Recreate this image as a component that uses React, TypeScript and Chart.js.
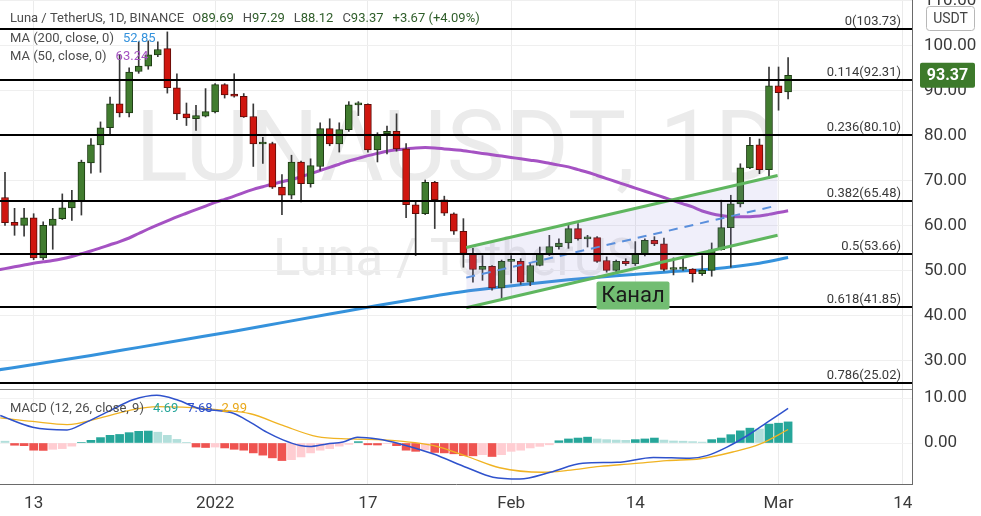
import React, { useEffect, useRef } from 'react';
import { Chart, registerables } from 'chart.js';

Chart.register(...registerables);

// ---------------- data ----------------
// daily candles, day 0 = Dec 10 2021 ... day 82 = Mar 2 2022
const opens = [
  66.2, 60.7, 60.0, 61.7, 52.8, 60.0, 61.5, 63.9, 65.3, 73.9,
  77.9, 81.7, 87.0, 85.0, 94.2, 95.4, 97.9, 99.3, 90.6, 84.8,
  83.7, 84.3, 85.2, 91.3, 89.2, 88.7, 84.2, 78.1, 78.2, 68.5,
  66.7, 74.1, 69.3, 73.1, 81.5, 78.1, 81.3, 86.8, 86.9, 76.8,
  80.4, 80.9, 77.0, 64.6, 62.6, 69.6, 65.7, 62.6, 58.7, 53.8,
  50.2, 50.9, 46.1, 52.0, 52.0, 47.4, 51.1, 53.6, 55.3, 56.1,
  59.3, 57.0, 57.3, 52.2, 50.0, 52.0, 51.5, 53.7, 56.7, 55.9,
  50.2, 50.3, 50.3, 49.3, 50.0, 54.6, 59.5, 64.8, 72.8, 77.9,
  72.4, 91.0, 89.69,
];
const highs = [
  71.8, 63.8, 63.8, 62.6, 60.8, 63.8, 67.0, 67.8, 74.5, 79.3,
  83.0, 88.5, 98.0, 95.0, 100.8, 101.0, 100.8, 103.0, 93.7, 87.2,
  86.7, 90.4, 91.5, 91.5, 93.7, 89.3, 87.0, 79.6, 78.5, 71.3,
  75.6, 74.3, 74.8, 82.8, 83.7, 82.8, 87.5, 87.5, 87.0, 80.6,
  82.1, 84.8, 78.2, 65.4, 70.1, 69.8, 66.5, 62.8, 61.5, 54.9,
  53.3, 51.1, 52.3, 53.3, 52.6, 51.7, 55.2, 57.8, 57.0, 60.4,
  60.4, 57.8, 57.5, 53.0, 52.3, 52.6, 56.4, 57.0, 57.5, 57.2,
  52.8, 52.9, 50.4, 53.3, 56.1, 65.6, 66.7, 73.7, 79.6, 79.2,
  95.2, 95.2, 97.29,
];
const lows = [
  60.0, 57.8, 57.6, 52.4, 52.4, 54.7, 61.3, 61.1, 62.3, 71.6,
  71.8, 80.0, 84.1, 84.1, 93.8, 94.7, 97.5, 89.4, 83.5, 82.2,
  81.1, 84.1, 85.0, 88.3, 88.5, 84.0, 73.1, 73.8, 68.2, 62.4,
  65.9, 65.2, 68.5, 72.2, 77.7, 76.3, 80.9, 84.4, 76.3, 74.1,
  75.9, 76.5, 61.7, 53.3, 62.4, 59.3, 62.2, 58.0, 50.7, 47.4,
  47.8, 45.6, 43.5, 47.2, 46.9, 46.6, 51.0, 53.3, 54.7, 54.9,
  56.7, 55.2, 51.8, 49.6, 49.3, 51.1, 51.1, 53.2, 55.5, 49.9,
  49.0, 50.0, 47.4, 48.9, 48.7, 54.5, 50.7, 64.1, 72.6, 71.5,
  70.4, 85.6, 88.12,
];
const closes = [
  60.6, 60.0, 61.7, 52.8, 60.0, 61.4, 63.9, 65.3, 74.1, 77.9,
  81.7, 87.0, 85.0, 94.1, 95.4, 97.9, 99.1, 90.6, 84.8, 83.9,
  84.4, 85.3, 91.3, 89.0, 88.7, 84.1, 78.1, 78.2, 68.5, 66.7,
  74.1, 69.3, 73.3, 81.5, 78.1, 81.3, 86.8, 86.9, 76.8, 80.2,
  80.9, 77.0, 64.6, 62.6, 69.6, 65.7, 62.7, 58.7, 53.8, 50.2,
  50.9, 46.1, 52.0, 52.1, 47.4, 51.1, 53.6, 55.3, 56.1, 59.3,
  57.0, 57.2, 52.0, 50.0, 52.0, 51.5, 53.7, 56.7, 55.9, 50.2,
  50.3, 50.4, 49.3, 50.0, 54.6, 59.5, 64.8, 72.8, 77.8, 72.4,
  91.0, 89.5, 93.37,
];

// MA 50: first value belongs to day -1, then days 0..82
const ma50 = [
  50.0,
  50.4, 50.8, 51.2, 51.6, 51.9, 52.2, 52.6, 53.1, 53.7, 54.3,
  55.0, 55.7, 56.4, 57.2, 58.2, 59.2, 60.1, 61.0, 61.9, 62.7,
  63.5, 64.3, 65.1, 65.8, 66.5, 67.3, 68.0, 68.6, 69.2, 69.7,
  70.2, 70.8, 71.5, 72.2, 72.9, 73.6, 74.3, 74.9, 75.5, 76.0,
  76.5, 76.8, 77.0, 77.2, 77.3, 77.2, 77.0, 76.8, 76.6, 76.3,
  76.0, 75.7, 75.4, 75.1, 74.8, 74.5, 74.2, 73.8, 73.4, 73.0,
  72.4, 71.8, 71.1, 70.4, 69.7, 69.0, 68.3, 67.6, 66.9, 66.2,
  65.5, 64.8, 64.1, 63.2, 62.6, 62.2, 61.95, 61.9, 61.95, 62.1,
  62.45, 62.85, 63.24,
];
const ma50FirstDay = -1;

const ma200Days = [-1, 4, 9, 14, 19, 24, 29, 34, 39, 44, 49, 54, 59, 64, 69, 74, 79, 82];
const ma200Vals = [27.8, 29.4, 31.1, 32.9, 34.7, 36.5, 38.4, 40.3, 42.2, 44.0, 45.6, 46.8, 47.9, 48.8, 49.6, 50.3, 51.6, 52.85];

const macdDays = [-0.5, 2.9, 6.5, 8.2, 11, 13.4, 15.9, 18, 20.4, 22.2, 23.9, 25.7, 27.4, 29.1, 30.9, 31.9, 33.7, 35.4, 36.9, 39, 41.4, 44.8, 48.4, 51.1, 53.9, 57.1, 60.5, 64.1, 67.9, 71.7, 73.5, 75.6, 78, 79.8, 82];
const macdVals = [6.1, 3.5, 2.9, 4.3, 7.2, 9.6, 10.6, 9.6, 7.6, 7.2, 6.6, 4.6, 2.4, 0.7, -0.55, -0.8, -0.2, 0.2, 1.3, 0.9, -0.2, -2.4, -5.5, -7.6, -8.0, -6.5, -4.5, -4.3, -3.2, -3.4, -2.8, -0.9, 2.0, 4.6, 7.68];
const signalDays = [-0.5, 2.9, 6.5, 10, 13.4, 15.9, 18.6, 22.2, 25.7, 29.1, 32.7, 36.1, 39.6, 41.4, 44.8, 48.4, 51.8, 56.3, 58.9, 62.3, 65.8, 69.3, 72.8, 76.2, 79.1, 82];
const signalVals = [5.6, 4.8, 4.1, 5.6, 7.4, 8.1, 7.95, 7.4, 6.5, 3.9, 1.4, 0.9, 0.7, 0.4, -0.55, -3.0, -5.5, -6.5, -6.1, -5.2, -4.6, -3.9, -3.5, -2.0, -0.2, 2.99];
const histBefore = 0.7;
const hist = [
  0.4, -0.5, -0.6, -1.6, -1.65, -1.4, -1.25, -0.7, 0.1, 0.6,
  1.2, 1.7, 1.9, 2.3, 2.6, 2.65, 2.4, 1.7, 0.8, 0.15,
  -0.9, -1.0, -0.9, -1.1, -1.4, -1.6, -2.2, -2.7, -3.3, -3.9,
  -3.7, -3.1, -2.2, -1.6, -1.25, -0.7, -0.3, 0.3, -0.4, -0.45,
  -0.1, -0.6, -1.6, -1.85, -1.5, -2.1, -2.2, -2.4, -2.8, -2.85,
  -2.6, -3.0, -2.6, -1.85, -1.6, -1.1, -0.75, -0.4, 0.5, 0.9,
  1.1, 1.3, 0.9, 0.75, 0.65, 0.6, 0.75, 0.9, 1.1, 0.65,
  0.45, 0.4, 0.3, 0.2, 0.75, 1.1, 1.85, 2.7, 3.3, 3.1,
  4.2, 4.4, 4.69,
];

const fibRatios = ['0', '0.114', '0.236', '0.382', '0.5', '0.618', '0.786'];
const fibPrices = [103.73, 92.31, 80.10, 65.48, 53.66, 41.85, 25.02];

const channelDays = [48.3, 80.9];
const channelUpper = [55.1, 71.1];
const channelLower = [41.7, 57.8];
const channelMid = [48.4, 64.45];
const channelLabel = 'Канал';
const channelLabelDay = 65.76;
const channelLabelPrice = 44.4;

const xTickDays = [3, 22, 38, 53, 66, 81, 94];
const xTickLabels = ['13', '2022', '17', 'Feb', '14', 'Mar', '14'];
const priceTicks = [30, 40, 50, 60, 70, 80, 90, 100, 110];
const macdTicks = [0, 10];

const headerTitle = 'Luna / TetherUS, 1D, BINANCE';
const headerOHLC = [['O', '89.69'], ['H', '97.29'], ['L', '88.12'], ['C', '93.37']];
const headerChange = '+3.67 (+4.09%)';
const ma200Legend = ['MA (200, close, 0)', '52.85'];
const ma50Legend = ['MA (50, close, 0)', '63.24'];
const macdLegend = 'MACD (12, 26, close, 9)';
const macdLegendVals = ['4.69', '7.68', '2.99'];
const watermarkMain = 'LUNAUSDT, 1D';
const watermarkSub = 'Luna / TetherUS';
const currencyLabel = 'USDT';

// ---------------- styling ----------------
const FONT = 'Roboto, "Noto Sans", sans-serif';
const GREEN = '#417c2f';
const GREEN_BORDER = '#1c3a12';
const RED = '#d0160f';
const RED_BORDER = '#5e0c08';
const PURPLE = '#a552c3';
const BLUE_MA = '#3592dc';
const CH_GREEN = '#5fb65f';
const TEAL = '#26a69a';
const TEAL_L = '#b2dfdb';
const RED_H = '#ef5350';
const PINK_H = '#ffcdd2';

function roundRect(ctx: any, x: number, y: number, w: number, h: number, r: number) {
  ctx.beginPath();
  ctx.moveTo(x + r, y);
  ctx.lineTo(x + w - r, y);
  ctx.quadraticCurveTo(x + w, y, x + w, y + r);
  ctx.lineTo(x + w, y + h - r);
  ctx.quadraticCurveTo(x + w, y + h, x + w - r, y + h);
  ctx.lineTo(x + r, y + h);
  ctx.quadraticCurveTo(x, y + h, x, y + h - r);
  ctx.lineTo(x, y + r);
  ctx.quadraticCurveTo(x, y, x + r, y);
  ctx.closePath();
}

function drawParts(ctx: any, x: number, y: number, parts: [string, string][]) {
  for (const [t, c] of parts) {
    ctx.fillStyle = c;
    ctx.fillText(t, x, y);
    x += ctx.measureText(t).width;
  }
  return x;
}

const overlayPlugin = {
  id: 'overlay',
  beforeDraw(chart: any) {
    const { ctx, chartArea: a, scales } = chart;
    ctx.save();
    ctx.fillStyle = '#ffffff';
    ctx.fillRect(0, 0, chart.width, chart.height);
    ctx.beginPath();
    ctx.rect(a.left, a.top, a.right - a.left, scales.y.bottom - a.top);
    ctx.clip();
    ctx.fillStyle = '#ebebeb';
    ctx.textAlign = 'center';
    ctx.textBaseline = 'alphabetic';
    ctx.font = `98px ${FONT}`;
    ctx.fillText(watermarkMain, 457, 180);
    ctx.font = `51px ${FONT}`;
    ctx.fillText(watermarkSub, 455, 275);
    ctx.restore();
  },
  afterDatasetsDraw(chart: any) {
    const { ctx, chartArea: a, scales } = chart;
    const ys = scales.y;
    const xs = scales.x;
    ctx.save();
    ctx.beginPath();
    ctx.rect(a.left, a.top, a.right - a.left, a.bottom - a.top);
    ctx.clip();
    // Fibonacci levels
    fibPrices.forEach((p, k) => {
      const y = Math.round(ys.getPixelForValue(p));
      ctx.strokeStyle = '#000000';
      ctx.lineWidth = 2;
      ctx.beginPath();
      ctx.moveTo(a.left, y);
      ctx.lineTo(a.right, y);
      ctx.stroke();
      ctx.font = `13px ${FONT}`;
      ctx.fillStyle = '#3a3a3a';
      ctx.textAlign = 'right';
      ctx.textBaseline = 'alphabetic';
      ctx.fillText(`${fibRatios[k]}(${p.toFixed(2)})`, a.right - 11, y - 4);
    });
    // channel label
    const cx = xs.getPixelForValue(channelLabelDay);
    const cy = ys.getPixelForValue(channelLabelPrice);
    ctx.fillStyle = '#72bd72';
    roundRect(ctx, cx - 36.5, cy - 14, 73, 28, 2);
    ctx.fill();
    ctx.fillStyle = '#1a1a1a';
    ctx.font = `22px ${FONT}`;
    ctx.textAlign = 'center';
    ctx.textBaseline = 'middle';
    ctx.fillText(channelLabel, cx, cy + 1);
    ctx.restore();
  },
  afterDraw(chart: any) {
    const { ctx, chartArea: a, scales } = chart;
    const ys = scales.y;
    ctx.save();
    // pane separator
    ctx.strokeStyle = '#8a8a8a';
    ctx.lineWidth = 1;
    ctx.beginPath();
    ctx.moveTo(0, Math.round(ys.bottom) + 0.5);
    ctx.lineTo(a.right, Math.round(ys.bottom) + 0.5);
    ctx.stroke();

    // header
    ctx.font = `13px ${FONT}`;
    ctx.textAlign = 'left';
    ctx.textBaseline = 'alphabetic';
    const gray = '#4d4d4d';
    const val = '#2f5e2a';
    let x = drawParts(ctx, 10, 21.5, [[headerTitle, gray]]) + 8;
    for (const [l, v] of headerOHLC) {
      x = drawParts(ctx, x, 21.5, [[l, gray], [v, val]]) + 9;
    }
    drawParts(ctx, x, 21.5, [[headerChange, val]]);

    x = drawParts(ctx, 10, 41.5, [[ma200Legend[0], gray]]) + 9;
    drawParts(ctx, x, 41.5, [[ma200Legend[1], BLUE_MA]]);
    x = drawParts(ctx, 10, 60, [[ma50Legend[0], gray]]) + 9;
    drawParts(ctx, x, 60, [[ma50Legend[1], PURPLE]]);

    x = drawParts(ctx, 10, 411.5, [[macdLegend, gray]]) + 9;
    const mc = [TEAL, '#2f52cc', '#e9a81a'];
    macdLegendVals.forEach((v, k) => {
      x = drawParts(ctx, x, 411.5, [[v, mc[k]]]) + 9;
    });

    // currency box
    ctx.fillStyle = '#ffffff';
    roundRect(ctx, 926.5, 6.5, 48, 24, 3);
    ctx.fill();
    ctx.strokeStyle = '#b8b8b8';
    ctx.stroke();
    ctx.fillStyle = '#444444';
    ctx.font = `14px ${FONT}`;
    ctx.textAlign = 'center';
    ctx.textBaseline = 'middle';
    ctx.fillText(currencyLabel, 950.5, 19);

    // last price label
    const last = closes[closes.length - 1];
    const py = ys.getPixelForValue(last);
    ctx.fillStyle = '#3d7a2b';
    roundRect(ctx, 920, py - 12.5, 55, 25, 2);
    ctx.fill();
    ctx.fillStyle = '#ffffff';
    ctx.font = `bold 16px ${FONT}`;
    ctx.fillText(last.toFixed(2), 947.5, py + 1);
    ctx.restore();
  },
};

export default function App() {
  const ref = useRef<HTMLCanvasElement>(null);

  useEffect(() => {
    const canvas = ref.current;
    if (!canvas) return;
    const days = opens.map((_, i) => i);
    const bodies = days.map((i) => ({ x: i, y: [opens[i], closes[i]] }));
    const wicks = days.map((i) => ({ x: i, y: [lows[i], highs[i]] }));
    const isUp = days.map((i) => closes[i] >= opens[i]);
    const histColors = hist.map((h, i) => {
      const p = i > 0 ? hist[i - 1] : histBefore;
      return h >= 0 ? (h >= p ? TEAL : TEAL_L) : h < p ? RED_H : PINK_H;
    });
    const pts = (xsArr: number[], vs: number[]) => xsArr.map((d, k) => ({ x: d, y: vs[k] }));

    const tickFont = { family: FONT, size: 17 };
    const priceTop = 110.09;
    const pricePx = 4.5;
    const mainH = 389;
    const macdH = 95;
    const macdZeroFromTop = 54;

    const chart = new Chart(canvas, {
      type: 'bar',
      data: {
        datasets: [
          {
            type: 'line', label: 'chUpper', data: pts(channelDays, channelUpper), yAxisID: 'y',
            borderColor: CH_GREEN, borderWidth: 3, pointRadius: 0, fill: '+1',
            backgroundColor: 'rgba(140,135,215,0.13)', order: 0.6,
          },
          {
            type: 'line', label: 'chLower', data: pts(channelDays, channelLower), yAxisID: 'y',
            borderColor: CH_GREEN, borderWidth: 3, pointRadius: 0, fill: false, order: 0.5,
          },
          {
            type: 'line', label: 'chMid', data: pts(channelDays, channelMid), yAxisID: 'y',
            borderColor: '#5a8fdc', borderWidth: 2, borderDash: [9, 7], pointRadius: 0, fill: false, order: 0.4,
          },
          {
            type: 'bar', label: 'bodies', data: bodies, yAxisID: 'y',
            backgroundColor: isUp.map((u) => (u ? GREEN : RED)),
            borderColor: isUp.map((u) => (u ? GREEN_BORDER : RED_BORDER)),
            borderWidth: 1, borderSkipped: false, barThickness: 7, grouped: false, minBarLength: 2, order: 2,
          },
          {
            type: 'bar', label: 'wicks', data: wicks, yAxisID: 'y',
            backgroundColor: '#383838', borderWidth: 0, barThickness: 1, grouped: false, order: 3,
          },
          {
            type: 'line', label: 'ma50', data: ma50.map((v, k) => ({ x: ma50FirstDay + k, y: v })), yAxisID: 'y',
            borderColor: PURPLE, borderWidth: 3, pointRadius: 0, tension: 0.3, fill: false, order: 4,
          },
          {
            type: 'line', label: 'ma200', data: pts(ma200Days, ma200Vals), yAxisID: 'y',
            borderColor: BLUE_MA, borderWidth: 3, pointRadius: 0, cubicInterpolationMode: 'monotone', fill: false, order: 4,
          },
          {
            type: 'bar', label: 'hist', data: hist.map((h, i) => ({ x: i, y: h })), yAxisID: 'yM',
            backgroundColor: histColors, borderWidth: 0, barThickness: 8, grouped: false, order: 5,
          },
          {
            type: 'line', label: 'macd', data: pts(macdDays, macdVals), yAxisID: 'yM',
            borderColor: '#2f52cc', borderWidth: 1.5, pointRadius: 0, cubicInterpolationMode: 'monotone', fill: false, order: 1,
          },
          {
            type: 'line', label: 'signal', data: pts(signalDays, signalVals), yAxisID: 'yM',
            borderColor: '#f0b323', borderWidth: 1.3, pointRadius: 0, cubicInterpolationMode: 'monotone', fill: false, order: 1,
          },
        ],
      } as any,
      options: {
        responsive: false,
        devicePixelRatio: 1,
        animation: false,
        events: [],
        layout: { padding: 0, autoPadding: false },
        plugins: { legend: { display: false }, tooltip: { enabled: false } },
        scales: {
          x: {
            type: 'linear', position: 'bottom', min: -0.5236, max: 94.974, offset: false,
            grid: { offset: false, color: '#ebebeb', drawTicks: false },
            border: { display: true, color: '#6a6a6a' },
            afterBuildTicks: (s: any) => { s.ticks = xTickDays.map((v) => ({ value: v })); },
            ticks: {
              autoSkip: false, maxRotation: 0, padding: 10, color: '#3a3a3a', font: tickFont,
              callback: (v: any) => { const k = xTickDays.indexOf(Number(v)); return k >= 0 ? xTickLabels[k] : ''; },
            },
            afterFit: (s: any) => { s.height = 32; s.paddingLeft = 0; s.paddingRight = 0; },
          },
          y: {
            type: 'linear', position: 'right', stack: 'panes', stackWeight: mainH,
            max: priceTop, min: priceTop - mainH / pricePx,
            grid: { color: '#efefef', drawTicks: false },
            border: { display: true, color: '#6a6a6a' },
            afterBuildTicks: (s: any) => { s.ticks = priceTicks.map((v) => ({ value: v })); },
            ticks: { padding: 12, color: '#3a3a3a', font: tickFont, callback: (v: any) => Number(v).toFixed(2) },
            afterFit: (s: any) => { s.width = 69; s.paddingTop = 0; s.paddingBottom = 0; },
          },
          yM: {
            type: 'linear', position: 'right', stack: 'panes', stackWeight: macdH,
            max: macdZeroFromTop / pricePx, min: -(macdH - macdZeroFromTop) / pricePx,
            grid: { color: '#f2f2f2', drawTicks: false },
            border: { display: true, color: '#6a6a6a' },
            afterBuildTicks: (s: any) => { s.ticks = macdTicks.map((v) => ({ value: v })); },
            ticks: { padding: 12, color: '#3a3a3a', font: tickFont, callback: (v: any) => Number(v).toFixed(2) },
            afterFit: (s: any) => { s.width = 69; s.paddingTop = 0; s.paddingBottom = 0; },
          },
        },
      } as any,
      plugins: [overlayPlugin],
    });
    return () => chart.destroy();
  }, []);

  return (
    <div style={{ position: 'fixed', left: 0, top: 0, width: 981, height: 516, background: '#ffffff' }}>
      <canvas ref={ref} width={981} height={516} style={{ display: 'block', width: 981, height: 516 }} />
    </div>
  );
}
